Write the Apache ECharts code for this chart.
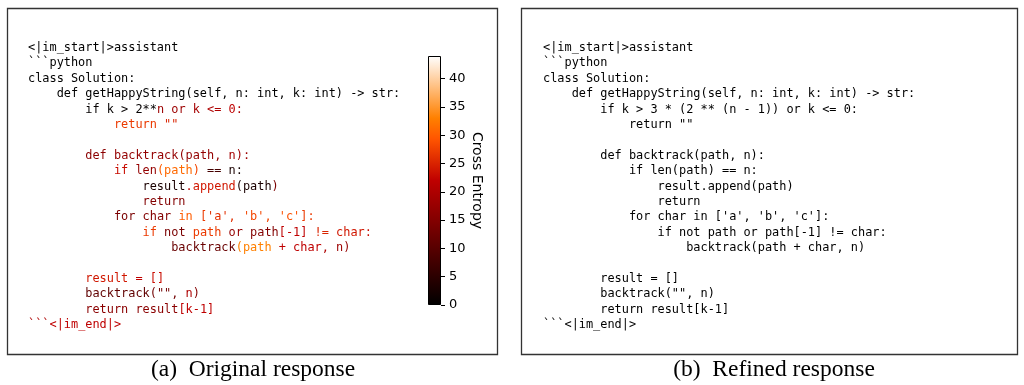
<!DOCTYPE html>
<html>
<head>
<meta charset="utf-8">
<script src="https://cdn.jsdelivr.net/npm/echarts@6/dist/echarts.min.js"></script>
<style>
  html, body { margin: 0; padding: 0; background: #fff; }
  #chart { width: 1024px; height: 385px; }
</style>
</head>
<body>
<div id="chart"></div>
<script>
// Original response: one list of tokens per code line
const originalTokens = [
  ["<|im_start|>assistant"],
  ["```python"],
  ["class Solution:"],
  ["    def getHappyString(self, n: int, k: int) -> str:"],
  ["        if k > 2**", "n", " or", " k", " <=", " 0", ":"],
  ["            return", " \"\""],
  [],
  ["        def", " backtrack", "(", "path", ",", " n", "):"],
  ["            if", " len", "(", "path", ")", " ==", " n", ":"],
  ["                result", ".", "append", "(", "path", ")"],
  ["                return"],
  ["            for", " char", " in", " [", "'a'", ",", " 'b'", ",", " 'c'", "]:"],
  ["                if", " not", " path", " or", " path", "[-1]", " !=", " char", ":"],
  ["                    backtrack", "(", "path", " +", " char", ",", " n", ")"],
  [],
  ["        result", " =", " []"],
  ["        backtrack", "(\"\",", " n", ")"],
  ["        return", " result", "[k-1]"],
  ["```", "<|im_end|>"]
];

// Per-token cross entropy of the original response
const originalEntropy = [
  [0],
  [0],
  [0],
  [0],
  [0.5, 18, 18, 19, 20, 22, 20],
  [27, 25],
  [],
  [16, 17, 17, 17, 17, 19, 18],
  [23, 17, 30, 31, 28, 8, 3, 2],
  [3, 22, 24, 3, 3, 14],
  [15],
  [14, 15, 30, 27, 26, 26, 28, 28, 29, 27],
  [27, 14, 27, 17, 15, 22, 25, 24, 23],
  [12, 33, 33, 22, 22, 20, 18, 17],
  [],
  [24, 22, 23],
  [11, 13, 20, 15],
  [16, 16, 22],
  [20, 22]
];

// Refined response, plain text
const refinedLines = [
  "<|im_start|>assistant",
  "```python",
  "class Solution:",
  "    def getHappyString(self, n: int, k: int) -> str:",
  "        if k > 3 * (2 ** (n - 1)) or k <= 0:",
  "            return \"\"",
  "",
  "        def backtrack(path, n):",
  "            if len(path) == n:",
  "                result.append(path)",
  "                return",
  "            for char in ['a', 'b', 'c']:",
  "                if not path or path[-1] != char:",
  "                    backtrack(path + char, n)",
  "",
  "        result = []",
  "        backtrack(\"\", n)",
  "        return result[k-1]",
  "```<|im_end|>"
];

// Colour bar scale
const cbMax = 44;
const cbTicks = [0, 5, 10, 15, 20, 25, 30, 35, 40];
const captions = ["(a)  Original response", "(b)  Refined response"];

// gist_heat colour map
function gistHeat(t) {
  const r = Math.min(1, 1.5 * t);
  const g = Math.max(0, Math.min(1, 2 * t - 1));
  const b = Math.max(0, Math.min(1, 4 * t - 3));
  const h = v => Math.round(v * 255).toString(16).padStart(2, '0');
  return '#' + h(r) + h(g) + h(b);
}
const heatColors = [];
for (let i = 0; i <= 12; i++) heatColors.push(gistHeat(i / 12));
const heatStops = heatColors.map((c, i) => ({ offset: i / 12, color: c }));

// token -> [column, line, entropy]
const origData = [];
const origText = [];
originalTokens.forEach((row, li) => {
  let col = 0;
  row.forEach((tok, k) => {
    origData.push([col, li, originalEntropy[li][k]]);
    origText.push(tok);
    col += tok.length;
  });
});
const refinedData = [];
const refinedText = [];
refinedLines.forEach((line, li) => {
  if (line.length) { refinedData.push([0, li]); refinedText.push(line); }
});

const CODE_FONT = '11.9px "DejaVu Sans Mono"';
const CHAR_W = 7.1644;
const COLS = 60;
const LINE_H = 15.39;

function textRenderer(texts, fixedColor) {
  return function (params, api) {
    const p = api.coord([api.value(0), api.value(1)]);
    return {
      type: 'text',
      x: p[0],
      y: p[1],
      style: {
        text: texts[params.dataIndex],
        fill: fixedColor || api.visual('color'),
        font: CODE_FONT,
        align: 'left',
        verticalAlign: 'middle'
      }
    };
  };
}

const codeX = (idx) => ({ gridIndex: idx, type: 'value', min: 0, max: COLS, show: false });
const codeY = (idx) => ({ gridIndex: idx, type: 'value', min: 0, max: refinedLines.length - 1, inverse: true, show: false });

const chart = echarts.init(document.getElementById('chart'), null, { renderer: 'canvas' });
chart.setOption({
  animation: false,
  backgroundColor: '#fff',
  grid: [
    { left: 28, top: 48, width: COLS * CHAR_W, height: (refinedLines.length - 1) * LINE_H },
    { left: 543, top: 48, width: COLS * CHAR_W, height: (refinedLines.length - 1) * LINE_H },
    { left: 428, top: 56, width: 13, height: 249 }
  ],
  xAxis: [
    codeX(0), codeX(1),
    { gridIndex: 2, type: 'category', data: [''], show: false }
  ],
  yAxis: [
    codeY(0), codeY(1),
    {
      gridIndex: 2, type: 'value', position: 'right', min: 0, max: cbMax,
      axisLine: { show: false },
      splitLine: { show: false },
      axisTick: { show: true, length: 4, customValues: cbTicks, lineStyle: { color: '#000', width: 1 } },
      axisLabel: { customValues: cbTicks, color: '#000', fontSize: 13, fontFamily: 'DejaVu Sans', margin: 8 },
      name: 'Cross Entropy',
      nameLocation: 'middle',
      nameRotate: -90,
      nameGap: 15,
      nameTextStyle: { color: '#000', fontSize: 14, fontFamily: 'DejaVu Sans' }
    }
  ],
  visualMap: {
    type: 'continuous', show: false, seriesIndex: 0, dimension: 2,
    min: 0, max: cbMax, inRange: { color: heatColors }
  },
  series: [
    {
      type: 'custom', xAxisIndex: 0, yAxisIndex: 0,
      data: origData, renderItem: textRenderer(origText)
    },
    {
      type: 'custom', xAxisIndex: 1, yAxisIndex: 1,
      data: refinedData, renderItem: textRenderer(refinedText, '#000')
    },
    {
      type: 'bar', xAxisIndex: 2, yAxisIndex: 2, barWidth: '100%',
      data: [cbMax],
      itemStyle: {
        color: { type: 'linear', x: 0, y: 1, x2: 0, y2: 0, colorStops: heatStops },
        borderColor: '#000', borderWidth: 1
      }
    }
  ],
  graphic: [
    { type: 'rect', shape: { x: 7.5, y: 8.5, width: 490, height: 346 }, style: { fill: 'none', stroke: '#333', lineWidth: 1.3 } },
    { type: 'rect', shape: { x: 521.5, y: 8.5, width: 496, height: 346 }, style: { fill: 'none', stroke: '#333', lineWidth: 1.3 } },
    { type: 'text', x: 253, y: 370, style: { text: captions[0], font: '23.5px "Liberation Serif"', fill: '#000', align: 'center', verticalAlign: 'middle' } },
    { type: 'text', x: 774, y: 370, style: { text: captions[1], font: '23.5px "Liberation Serif"', fill: '#000', align: 'center', verticalAlign: 'middle' } }
  ]
});
</script>
</body>
</html>
